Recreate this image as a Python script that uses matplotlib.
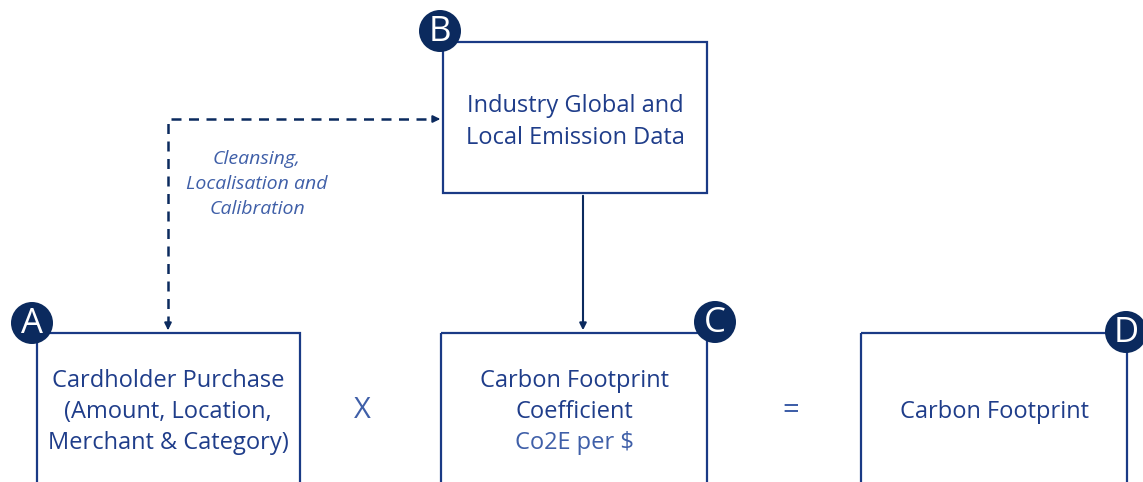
import matplotlib.pyplot as plt
from matplotlib.patches import Rectangle, Circle

# diagram content
box_letters = ['A', 'B', 'C', 'D']
box_titles = [
    ['Cardholder Purchase', '(Amount, Location,', 'Merchant & Category)'],
    ['Industry Global and', 'Local Emission Data'],
    ['Carbon Footprint', 'Coefficient'],
    ['Carbon Footprint'],
]
c_subtitle = 'Co2E per $'
flow_note = ['Cleansing,', 'Localisation and', 'Calibration']
operators = ['X', '=']

navy = '#0b2a5e'
edge = '#1a3a85'
txt = '#1f3d8a'
light = '#3f5fa8'

plt.rcParams['font.family'] = ['Open Sans', 'DejaVu Sans']

fig = plt.figure(figsize=(11.43, 4.82), dpi=100)
ax = fig.add_axes([0, 0, 1, 1])
ax.set_xlim(0, 1143)
ax.set_ylim(482, 0)
ax.axis('off')


def lines(x, y0, step, rows, **kw):
    for i, s in enumerate(rows):
        ax.text(x, y0 + i * step, s, ha='center', va='center', **kw)


# boxes: (left, top, right, bottom)
boxes = [(37, 333, 300, 500), (443, 42, 707, 193), (441, 333, 707, 500), (861, 333, 1127, 500)]
badges = [(32, 323), (440, 31), (715, 322), (1126, 332)]

for (l, t, r, b) in boxes:
    ax.add_patch(Rectangle((l, t), r - l, b - t, fill=False, ec=edge, lw=1.6, zorder=2))

for letter, (cx, cy) in zip(box_letters, badges):
    ax.add_patch(Circle((cx, cy), 21, fc=navy, ec='none', zorder=3))
    ax.text(cx, cy + 1, letter, color='white', fontsize=25, ha='center', va='center', zorder=4)

fs = 17
lines(168, 381, 31, box_titles[0], color=txt, fontsize=fs)
lines(575, 106, 32, box_titles[1], color=txt, fontsize=fs)
lines(574, 381, 31, box_titles[2], color=txt, fontsize=fs)
lines(574, 443, 31, [c_subtitle], color=light, fontsize=fs)
lines(995, 412, 31, box_titles[3], color=txt, fontsize=fs)

ax.text(362, 411, operators[0], color=light, fontsize=21, ha='center', va='center')
ax.text(791, 411, operators[1], color=light, fontsize=21, ha='center', va='center')

lines(257, 159, 25, flow_note, color=light, fontsize=14, style='italic')

# dashed feedback path A -> B
ax.plot([168, 168, 436], [326, 119, 119], color=navy, lw=1.8, ls=(0, (4, 3)), zorder=1)
ax.annotate('', xy=(443, 119), xytext=(434, 119),
            arrowprops=dict(arrowstyle='-|>', color=navy, lw=1.5, mutation_scale=10))
ax.annotate('', xy=(168, 333), xytext=(168, 324),
            arrowprops=dict(arrowstyle='-|>', color=navy, lw=1.5, mutation_scale=10))

# solid arrow B -> C
ax.annotate('', xy=(583, 333), xytext=(583, 193),
            arrowprops=dict(arrowstyle='-|>', color=navy, lw=1.5, mutation_scale=10))

fig.savefig('out.png', dpi=100)
